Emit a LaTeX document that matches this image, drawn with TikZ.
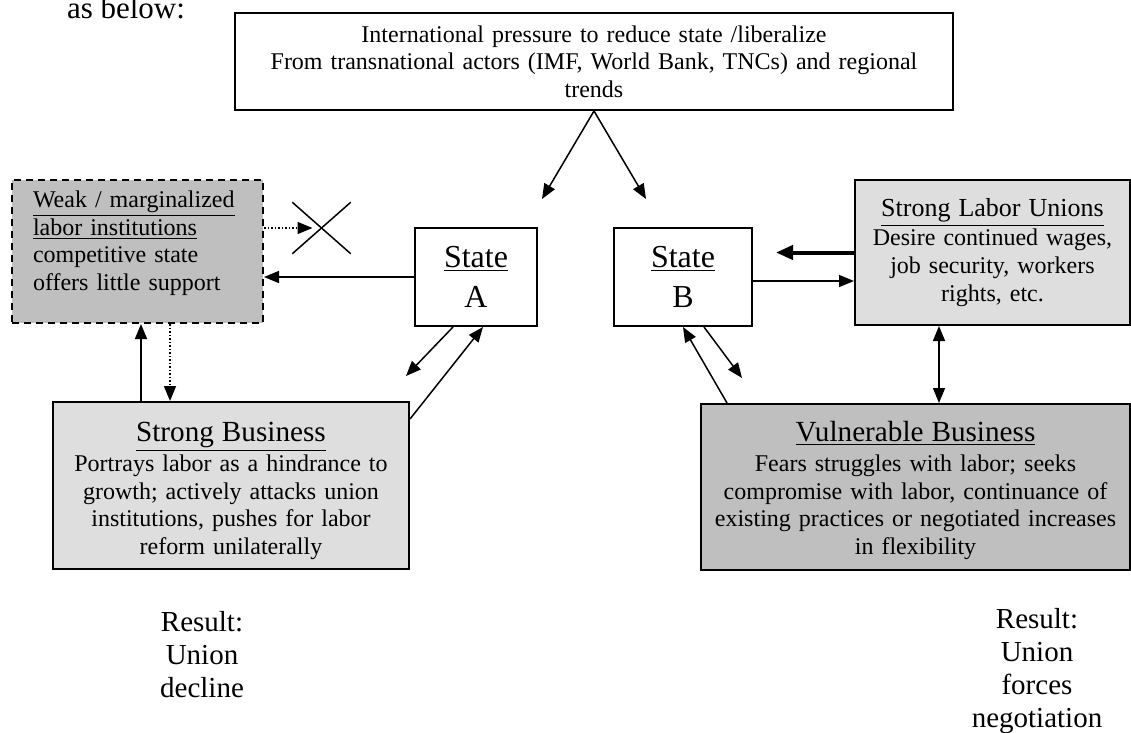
\documentclass[tikz,border=0pt]{standalone}
\usepackage{fontspec}
\setmainfont{Liberation Serif}
\usepackage{tikz}
\usetikzlibrary{arrows.meta,positioning,calc,shapes.misc}
\newcommand{\txt}{\fontsize{12pt}{13.8pt}\selectfont}
\newcommand{\hd}{\fontsize{14.6pt}{16.8pt}\selectfont}

\begin{document}
\begin{tikzpicture}[x=0.5pt,y=-0.5pt,>={Triangle[length=7.5pt,width=6pt]},
  b/.style={draw,line width=1pt,inner sep=0pt,align=center,font=\txt},
  lt/.style={b,fill=black!13},
  dk/.style={b,fill=black!25},
  st/.style={b,minimum height=49pt,font=\fontsize{16pt}{20pt}\selectfont},
  res/.style={align=center,font=\fontsize{14.5pt}{16.5pt}\selectfont},
  ln/.style={->,line width=0.75pt}]
  \useasboundingbox (0,0) rectangle (1131,733);
  \clip (0,0) rectangle (1131,733);
  \node[anchor=base,font=\fontsize{15.5pt}{18pt}\selectfont](hdr) at (126,19){as below:};
  \node[b,minimum width=359pt,minimum height=48.5pt,text width=340pt](intl) at (594,61.5){International pressure to reduce state /liberalize\\From transnational actors (IMF, World Bank, TNCs) and regional\\trends};
  \node[st,minimum width=61pt](sta) at (476,277){\underline{State}\\A};
  \node[st,right=37.5pt of sta,minimum width=69pt](stb){\underline{State}\\B};
  \node[dk,dashed,dash pattern=on 3.5pt off 2.5pt,align=left,inner xsep=10.5pt,text width=104.5pt,minimum width=125.5pt,minimum height=71.5pt](weak) at (137.5,251.5){\underline{Weak / marginalized}\\\underline{labor institutions}\\competitive state\\offers little support\\[-3pt]\mbox{}};
  \node[cross out,draw,line width=0.75pt,inner sep=0pt,minimum width=28.5pt,minimum height=25pt](no) at (321.5,228){};
  \node[lt,minimum width=178pt,minimum height=83.5pt,text width=172pt](sbus) at (231,485.5){{\hd\rule{0pt}{15pt}\underline{Strong Business}}\\[1.2pt]Portrays labor as a hindrance to\\growth; actively attacks union\\institutions, pushes for labor\\reform unilaterally};
  \node[lt,minimum width=137.5pt,minimum height=72.5pt,text width=132pt](slu) at (992.5,252.5){{\fontsize{13pt}{15pt}\selectfont\underline{Strong Labor Unions}}\\[0.7pt]Desire continued wages,\\job security, workers\\rights, etc.};
  \node[dk,below=38.5pt of slu.south east,anchor=north east,minimum width=214.5pt,minimum height=83pt,text width=210pt](vbus){{\hd\rule{0pt}{13.5pt}\underline{Vulnerable Business}}\\[1.2pt]Fears struggles with labor; seeks\\compromise with labor, continuance of\\existing practices or negotiated increases\\in flexibility};
  \node[res](resa) at (202,655){Result:\\Union\\decline};
  \node[res](resb) at (1037,671){Result:\\Union\\forces\\negotiation};
  % free ends and offsets
  \coordinate (ta) at (542,199);\coordinate (tb) at (646,199);
  \coordinate (u1) at ([xshift=44.5pt]sbus.north west);\coordinate (u2) at ([xshift=59pt]sbus.north west);
  \coordinate (c1) at ([yshift=-2pt]stb.east);\coordinate (c2) at ([xshift=11.5pt]stb.east);
  \coordinate (c3) at ([xshift=-26.75pt]slu.south);
  \draw[ln](intl.south)--(ta);\draw[ln](intl.south)--(tb);
  \draw[ln](sta.west)--(weak.east|-sta.west);
  \draw[ln,densely dotted](weak.east|-no)--([xshift=-4.5pt]no.center);
  \draw[ln](u1)--(u1|-weak.south);\draw[ln,densely dotted](u2|-weak.south)--(u2);
  \draw[ln]([xshift=-11.5pt]sta.south)--([shift={(-2pt,12.5pt)}]sbus.north east);
  \draw[ln]([yshift=-9pt]sbus.north east)--([xshift=3.5pt]sta.south);
  \draw[ln](c1)--(c1-|slu.west);
  \draw[-{Triangle[length=8.5pt,width=7pt]},line width=2pt](slu.west)--(c2|-slu.west);
  \draw[ln]([xshift=10.5pt]stb.south)--([shift={(21pt,12.5pt)}]vbus.north west);
  \draw[ln]([xshift=13.5pt]vbus.north west)--(stb.south);
  \draw[ln,<->](c3)--(c3|-vbus.north);
\end{tikzpicture}
\end{document}
